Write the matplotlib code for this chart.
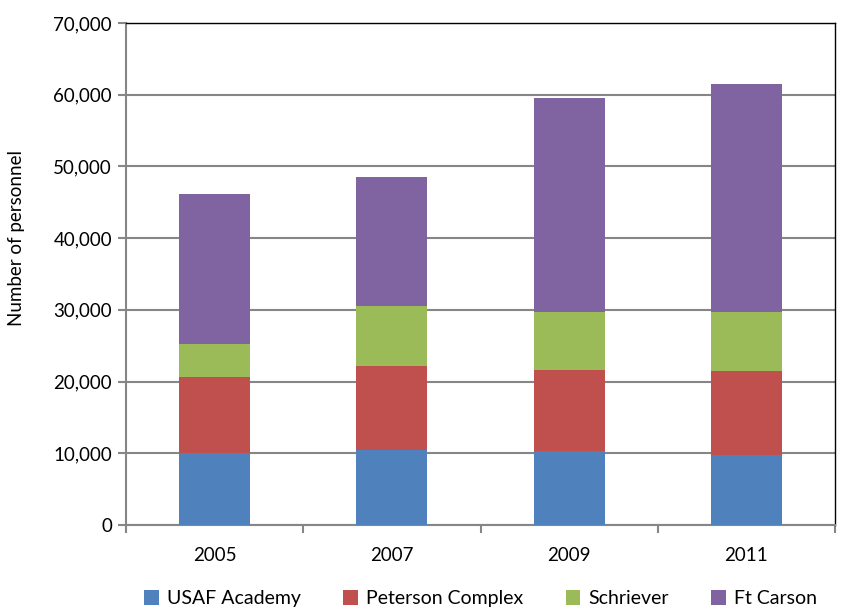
import numpy as np
import matplotlib.pyplot as plt
from matplotlib.ticker import FuncFormatter

plt.rcParams['font.family'] = ['Lato', 'DejaVu Sans']

years = ['2005', '2007', '2009', '2011']
series = ['USAF Academy', 'Peterson Complex', 'Schriever', 'Ft Carson']
usaf = [10040, 10460, 10320, 9820]
peterson = [10660, 11770, 11300, 11710]
schriever = [4540, 8270, 8040, 8180]
carson = [20880, 18090, 29890, 31750]
colors = ['#4f81bd', '#c0504d', '#9bbb59', '#8064a2']

fig = plt.figure(figsize=(8.49, 6.09), dpi=100)
ax = fig.add_axes([126/849, 1 - 525/609, (835-126)/849, (525-23)/609])

x = np.arange(len(years))
bottom = np.zeros(len(years))
for name, vals, c in zip(series, [usaf, peterson, schriever, carson], colors):
    ax.bar(x, vals, width=0.4, bottom=bottom, color=c, label=name, zorder=3)
    bottom += np.array(vals)

ax.set_xlim(-0.5, 3.5)
ax.set_ylim(0, 70000)
ax.set_yticks(np.arange(0, 70001, 10000))
ax.yaxis.set_major_formatter(FuncFormatter(lambda v, p: f'{int(v):,}'))
ax.yaxis.grid(True, color='#868686', linewidth=1.5, zorder=0)

ax.set_xticks(x)
ax.set_xticklabels(years)
ax.set_xticks(np.arange(-0.5, 3.6, 1), minor=True)
ax.tick_params(axis='x', which='major', length=0, pad=16, labelsize=13.5)
ax.tick_params(axis='x', which='minor', length=6, color='#868686', width=1.5, direction='out')
ax.tick_params(axis='y', length=6, color='#868686', width=1.5, labelsize=13.5, pad=4)

for s in ['left', 'bottom']:
    ax.spines[s].set_color('#868686')
    ax.spines[s].set_linewidth(1.5)
for s in ['top', 'right']:
    ax.spines[s].set_color('black')
    ax.spines[s].set_linewidth(1.0)

ax.set_ylabel('Number of personnel', fontsize=13.5)
ax.yaxis.set_label_coords(-0.142, 0.572)

ax.legend(loc='center', bbox_to_anchor=(0.5, -0.147), ncol=4, frameon=False,
          fontsize=14, handlelength=0.75, handleheight=0.75, columnspacing=2.2,
          handletextpad=0.4)

fig.savefig('out.png', dpi=100)
